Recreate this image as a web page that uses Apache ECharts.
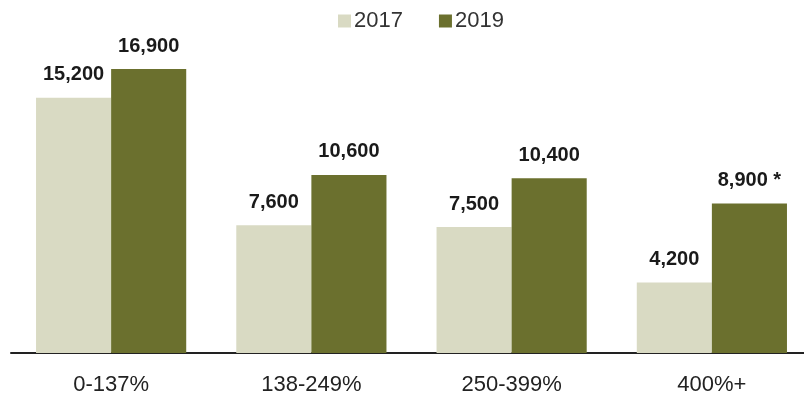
<!DOCTYPE html>
<html><head><meta charset="utf-8">
<script src="https://cdn.jsdelivr.net/npm/echarts@6/dist/echarts.min.js"></script>
<style>html,body{margin:0;padding:0;background:#fff;overflow:hidden;width:804px;height:398px}#c{width:812px;height:398px}</style>
</head><body><div id="c"></div>
<script>
var categories = ['0-137%', '138-249%', '250-399%', '400%+'];
var values2017 = [15200, 7600, 7500, 4200];
var values2019 = [16900, 10600, 10400, 8900];
var labels2019 = ['16,900', '10,600', '10,400', '8,900 *'];
var seriesNames = ['2017', '2019'];

var chart = echarts.init(document.getElementById('c'));
var lblFont = {show: true, position: 'top', distance: 13, color: '#1a1a1a', fontWeight: 'bold', fontSize: 20, fontFamily: 'Liberation Sans'};
chart.setOption({
  animation: false,
  legend: {
    top: 5, left: 333, itemWidth: 13, itemHeight: 13, itemGap: 36, icon: 'rect',
    textStyle: {fontSize: 22, color: '#333', fontFamily: 'Liberation Sans', padding: [0, 0, 0, -2]},
    data: seriesNames
  },
  grid: {left: 11, right: 0, top: 17, bottom: 45, containLabel: false},
  xAxis: {
    type: 'category', data: categories,
    axisLine: {lineStyle: {color: '#222', width: 2}},
    axisTick: {show: false},
    axisLabel: {fontSize: 22, color: '#222', margin: 21, fontFamily: 'Liberation Sans'}
  },
  yAxis: {type: 'value', min: 0, max: 20000, show: false, splitLine: {show: false}},
  series: [
    {name: seriesNames[0], type: 'bar', data: values2017, barGap: '0%', barCategoryGap: '25%',
     itemStyle: {color: '#d9dac3'},
     label: Object.assign({}, lblFont, {formatter: function(p){return p.value.toLocaleString('en-US');}})},
    {name: seriesNames[1], type: 'bar', data: values2019,
     itemStyle: {color: '#6b702e'},
     label: Object.assign({}, lblFont, {formatter: function(p){return labels2019[p.dataIndex];}})}
  ]
});
</script></body></html>
